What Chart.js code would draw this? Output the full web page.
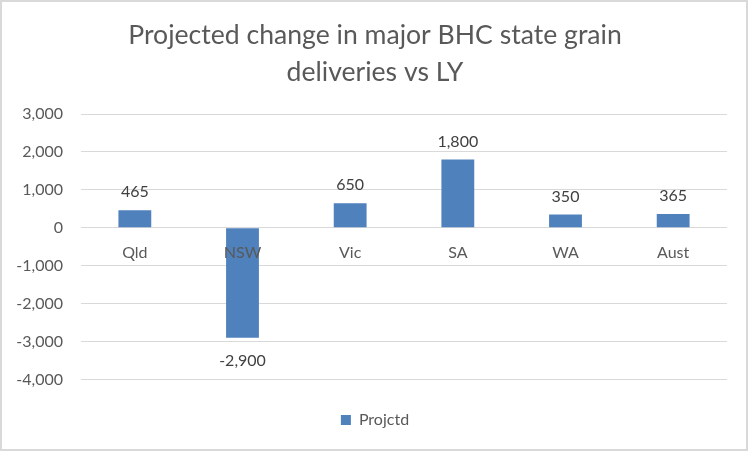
<!DOCTYPE html>
<html>
<head>
<meta charset="utf-8">
<script src="https://cdn.jsdelivr.net/npm/chart.js@4"></script>
<style>
  html, body { margin: 0; padding: 0; background: #fff; }
  #wrap { width: 750px; height: 451px; }
</style>
</head>
<body>
<div id="wrap"><canvas id="grainChart" width="750" height="451"></canvas></div>
<script>
// datos
const estados = ["Qld", "NSW", "Vic", "SA", "WA", "Aust"];
const projctd = [465, -2900, 650, 1800, 350, 365];
const ejeMin = -4000;
const ejeMax = 3000;
const paso = 1000;

const fmt = (v) => Number(v).toLocaleString("en-US");

// etiquetas encima / debajo de cada barra
const etiquetas = {
  id: "etiquetas",
  afterDatasetsDraw(chart) {
    const ctx = chart.ctx;
    const meta = chart.getDatasetMeta(0);
    ctx.save();
    ctx.font = "16px Lato";
    ctx.fillStyle = "#404040";
    ctx.textAlign = "center";
    ctx.textBaseline = "alphabetic";
    meta.data.forEach((bar, i) => {
      const v = chart.data.datasets[0].data[i];
      const y = v >= 0 ? bar.y - 13 : bar.y + 28;
      ctx.fillText(fmt(v), bar.x, y);
    });
    ctx.restore();
  },
};

// borde gris del area del grafico
const borde = {
  id: "borde",
  afterDraw(chart) {
    const ctx = chart.ctx;
    ctx.save();
    ctx.strokeStyle = "#d9d9d9";
    ctx.lineWidth = 2;
    ctx.strokeRect(1, 1, 746, 449);
    ctx.restore();
  },
};

new Chart(document.getElementById("grainChart").getContext("2d"), {
  type: "bar",
  data: {
    labels: estados,
    datasets: [
      {
        label: "Projctd",
        data: projctd,
        backgroundColor: "#4f81bd",
        barPercentage: 0.305,
        categoryPercentage: 1,
      },
    ],
  },
  options: {
    responsive: false,
    animation: false,
    layout: { padding: { left: 0, right: 0, top: 0, bottom: 13 } },
    scales: {
      x: {
        position: { y: 0 },
        grid: { display: false },
        border: { display: false },
        ticks: {
          z: 1, // nombres por encima de las barras
          color: "#595959",
          font: { family: "Lato", size: 16 },
          padding: 7,
          maxRotation: 0,
        },
      },
      y: {
        min: ejeMin,
        max: ejeMax,
        afterFit: (scale) => { scale.width = 81; },
        grid: { color: "#d9d9d9", lineWidth: 1, drawTicks: false },
        border: { display: false },
        ticks: {
          stepSize: paso,
          color: "#595959",
          font: { family: "Lato", size: 16 },
          padding: 18,
          callback: (v) => fmt(v),
        },
      },
      // margen derecho vacio (asi la leyenda queda centrada en todo el ancho)
      margen: {
        type: "linear",
        position: "right",
        afterFit: (scale) => { scale.width = 23; },
        grid: { display: false },
        border: { display: false },
        ticks: { display: false },
      },
    },
    plugins: {
      title: {
        display: true,
        text: ["Projected change in major BHC state grain", "deliveries vs LY"],
        color: "#595959",
        font: { family: "Lato", size: 26.6, weight: "normal", lineHeight: 37 / 26.6 },
        padding: { top: 17, bottom: 23 },
      },
      legend: {
        position: "bottom",
        labels: {
          boxWidth: 10,
          boxHeight: 10,
          padding: 32.5,
          color: "#595959",
          font: { family: "Lato", size: 16 },
        },
      },
      tooltip: { enabled: false },
    },
  },
  plugins: [etiquetas, borde],
});
</script>
</body>
</html>
